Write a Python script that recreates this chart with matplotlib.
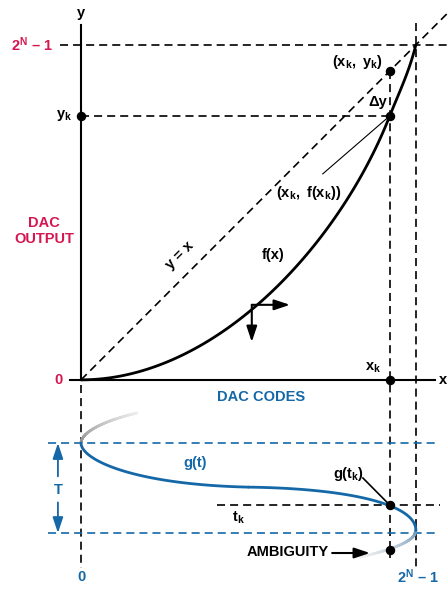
import numpy as np
import matplotlib
matplotlib.use("Agg")
import matplotlib.pyplot as plt
from matplotlib.bezier import BezierSegment
from matplotlib.collections import LineCollection
from matplotlib.colors import to_rgba

plt.rcParams["font.family"] = ["Liberation Sans", "DejaVu Sans"]
plt.rcParams["font.weight"] = "bold"
plt.rcParams["font.size"] = 10.5
plt.rcParams["mathtext.fontset"] = "custom"
plt.rcParams["mathtext.rm"] = "Liberation Sans:bold"
plt.rcParams["mathtext.bf"] = "Liberation Sans:bold"
plt.rcParams["mathtext.it"] = "Liberation Sans:bold"
plt.rcParams["mathtext.default"] = "bf"
plt.rcParams["lines.scale_dashes"] = False

RED = "#d6174f"
BLUE = "#1468a8"
DASH = (0, (5.8, 3.6))

# codes and outputs normalised so that 2^N - 1 -> 1.0
full_scale = 1.0
x_k = 0.922
f_xk = 0.788

# f(x): DAC transfer curve as two cubic Bezier pieces joined at x_k
f_ctrl_low = [(0.0, 0.0), (0.40, 0.0), (0.77, 0.40), (x_k, f_xk)]
f_ctrl_high = [(x_k, f_xk), (0.952, 0.863), (0.98, 0.92), (full_scale, full_scale)]

# g(t): code reached at time t (t in units of the period T)
g_ctrl_first = [(0.0, 0.0), (0.0, 0.18), (0.15, 0.46), (0.5, 0.49)]
g_ctrl_second = [(0.5, 0.49), (0.8, 0.505), (1.0, 0.68), (1.0, 0.97)]
g_tail_before = [(0.0, 0.0), (0.0, -0.12), (0.07, -0.25), (0.167, -0.333)]
g_tail_after = [(1.0, 0.97), (1.0, 1.06), (0.96, 1.16), (0.833, 1.267)]
t_k = 0.689
t_ambiguity = 1.189

# arrows showing the direction of f(x)
arrow_x = 0.51
arrow_y = 0.224


def bezier_points(ctrl, n=120):
    seg = BezierSegment(np.array(ctrl, dtype=float))
    pts = seg(np.linspace(0, 1, n))
    return pts[:, 0], pts[:, 1]


def fading_line(ax, ctrl, c_start, c_end, lw=1.9):
    xs, ys = bezier_points(ctrl)
    pts = np.column_stack([xs, ys]).reshape(-1, 1, 2)
    segs = np.concatenate([pts[:-1], pts[1:]], axis=1)
    a = np.array(to_rgba(c_start))
    b = np.array(to_rgba(c_end))
    w = np.linspace(0, 1, len(segs))[:, None]
    lc = LineCollection(segs, colors=a * (1 - w) + b * w, linewidths=lw,
                        capstyle="round")
    ax.add_collection(lc)


fig = plt.figure(figsize=(4.48, 5.90), dpi=100)
ax = fig.add_axes([0, 180 / 590, 1, 410 / 590])
axb = fig.add_axes([0, 0, 1, 180 / 590])
for a_ in (ax, axb):
    a_.set_xlim(-0.242, 1.096)
    a_.axis("off")
ax.set_ylim(-0.09, 1.134)
axb.set_ylim(1.633, -0.367)

# ---- upper panel: DAC output vs code ----
ax.plot([0, 0], [0, 1.058], color="k", lw=1.5)
ax.plot([-0.033, 1.058], [0, 0], color="k", lw=1.5)
ax.text(0, 1.096, "y", ha="center", va="center")
ax.text(1.094, 0, "x", ha="right", va="center")

ax.plot([-0.063, 1.096], [full_scale, full_scale], color="k", lw=1.2, ls=DASH)
ax.plot([full_scale, full_scale], [1.066, -0.558], color="k", lw=1.2, ls=DASH,
        clip_on=False)
ax.plot([x_k, x_k], [x_k, -0.531], color="k", lw=1.2, ls=DASH, clip_on=False)
ax.plot([0, 0], [-0.015, -0.561], color="k", lw=1.2, ls=DASH, clip_on=False)
ax.plot([0, x_k], [f_xk, f_xk], color="k", lw=1.2, ls=DASH)
ax.plot([0, 1.096], [0, 1.096], color="k", lw=1.2, ls=DASH)

for ctrl in (f_ctrl_low, f_ctrl_high):
    xs, ys = bezier_points(ctrl)
    ax.plot(xs, ys, color="k", lw=2.0, solid_capstyle="round")

ax.plot([x_k, 0.722], [f_xk, 0.615], color="k", lw=0.8)
ax.plot([0, x_k, x_k, x_k], [f_xk, x_k, f_xk, 0], "o", color="k", ms=5.8,
        clip_on=False, zorder=5)

arrow = dict(arrowstyle="-|>,head_length=0.9,head_width=0.3", color="k", lw=1.5,
             shrinkA=0, shrinkB=0)
ax.annotate("", xy=(0.624, arrow_y), xytext=(arrow_x, arrow_y), arrowprops=arrow)
ax.annotate("", xy=(arrow_x, 0.113), xytext=(arrow_x, arrow_y), arrowprops=arrow)

ax.text(-0.084, full_scale, r"$2^{N}$ – 1", color=RED, ha="right", va="center")
ax.text(-0.027, f_xk, r"$y_k$", ha="right", va="center")
ax.text(-0.054, 0, "0", color=RED, ha="right", va="center")
ax.text(-0.110, 0.445, "DAC\nOUTPUT", color=RED, ha="center", va="center",
        linespacing=1.2)
ax.text(0.296, 0.373, "y = x", rotation=45, ha="center", va="center",
        rotation_mode="anchor")
ax.text(0.573, 0.373, "f(x)", ha="center", va="center")
ax.text(0.681, 0.558, r"$(x_k,\ f(x_k))$", ha="center", va="center")
ax.text(0.824, 0.949, r"$(x_k,\ y_k)$", ha="center", va="center")
ax.text(0.887, 0.830, "Δy", ha="center", va="center")
ax.text(0.872, 0.036, r"$x_k$", ha="center", va="center")
ax.text(0.537, -0.051, "DAC CODES", color=BLUE, ha="center", va="center")

# ---- lower panel: code sweep over one period ----
for t_line in (0.0, 1.0):
    axb.plot([-0.0985, 1.063], [t_line, t_line], color=BLUE, lw=1.2, ls=DASH)

arrow_b = dict(arrowstyle="-|>,head_length=0.9,head_width=0.3", color=BLUE,
               lw=1.3, shrinkA=0, shrinkB=0)
axb.annotate("", xy=(-0.069, 0.0), xytext=(-0.069, 0.37), arrowprops=arrow_b)
axb.annotate("", xy=(-0.069, 1.0), xytext=(-0.069, 0.66), arrowprops=arrow_b)
axb.text(-0.069, 0.52, "T", color=BLUE, ha="center", va="center")

fading_line(axb, g_tail_before, "#8a8a8a", "#ececec")
fading_line(axb, g_tail_after, "#5f8fb5", "#f0f0f0")
for ctrl in (g_ctrl_first, g_ctrl_second):
    xs, ts = bezier_points(ctrl)
    axb.plot(xs, ts, color=BLUE, lw=2.0, solid_capstyle="round")

axb.plot([0.406, 1.072], [t_k, t_k], color="k", lw=1.2, ls=DASH)
axb.plot([0.842, x_k], [0.389, t_k], color="k", lw=1.2)
axb.plot([x_k, x_k], [t_k, t_ambiguity], "o", color="k", ms=5.8, zorder=5)

axb.text(0.340, 0.222, "g(t)", color=BLUE, ha="center", va="center")
axb.text(0.800, 0.344, r"$g(t_k)$", ha="center", va="center")
axb.text(0.469, 0.833, r"$t_k$", ha="center", va="center")
axb.text(0.740, 1.211, "AMBIGUITY", ha="right", va="center")
axb.annotate("", xy=(0.863, 1.222), xytext=(0.750, 1.222), arrowprops=arrow)
axb.text(0, 1.489, "0", color=BLUE, ha="center", va="center")
axb.text(1.006, 1.489, r"$2^{N}$ – 1", color=BLUE, ha="center", va="center")

fig.savefig("out.png", dpi=100)
